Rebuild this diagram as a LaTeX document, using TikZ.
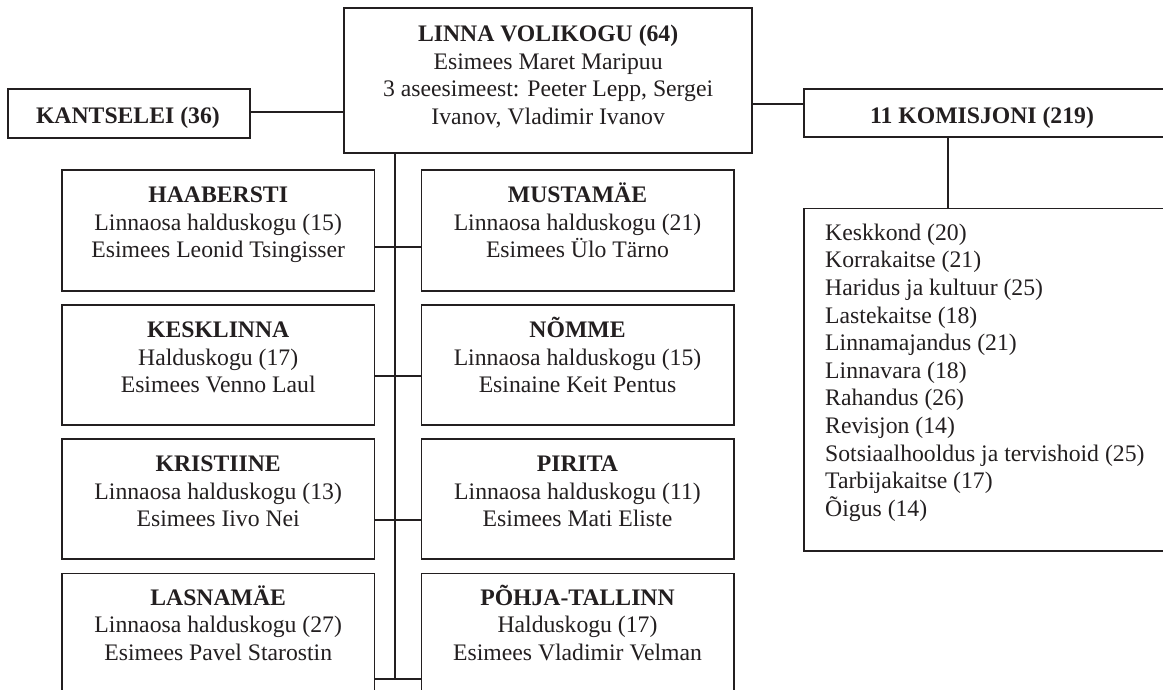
\documentclass[tikz,border=0pt]{standalone}
\usepackage{fontspec}
\setmainfont{Liberation Serif}
\usetikzlibrary{calc}
\definecolor{ink}{HTML}{231F20}
\begin{document}
\begin{tikzpicture}[x=1pt,y=-1pt,
  box/.style={draw=ink, line width=1.7pt, inner sep=0pt, anchor=north west},
  txt/.style={text=ink, inner sep=0pt, font=\fontsize{23.7}{27.5}\selectfont, align=center},
  ltxt/.style={text=ink, inner sep=0pt, font=\fontsize{23.7}{27.6}\selectfont, align=left},
  conn/.style={draw=ink, line width=1.7pt}]
\useasboundingbox (0,0) rectangle (1163,690);
\fill[white] (0,0) rectangle (1163,690);
% top boxes
\node[box, minimum width=242pt, minimum height=49pt] (kants) at (6.9,88) {};
\node[box, minimum width=408pt, minimum height=145pt] (voli) at (343.3,7.3) {};
\node[box, minimum width=365pt, minimum height=47.7pt] (komis) at (803,88.3) {};
\node[box, minimum width=365pt, minimum height=342.3pt] (list) at (803,207.7) {};
\node[txt, anchor=base] (kants-t) at (127.9,124) {\textbf{KANTSELEI (36)}};
\node[txt, anchor=base] (komis-t) at (982,123.3) {\textbf{11 KOMISJONI (219)}};
\node[txt, anchor=north] (voli-t) at ($(voli.north)+(0,12.4)$) {\rule{0pt}{22pt}\textbf{LINNA VOLIKOGU (64)}\\Esimees Maret Maripuu\\3 aseesimeest: Peeter Lepp, Sergei\\Ivanov, Vladimir Ivanov};
\node[ltxt, anchor=north west] (list-t) at (825,218) {\rule{0pt}{22pt}Keskkond (20)\\Korrakaitse (21)\\Haridus ja kultuur (25)\\Lastekaitse (18)\\Linnamajandus (21)\\Linnavara (18)\\Rahandus (26)\\Revisjon (14)\\Sotsiaalhooldus ja tervishoid (25)\\Tarbijakaitse (17)\\Õigus (14)};
% district boxes
\node[box, minimum width=312.3pt, minimum height=120.7pt] (haab) at (61.2,169.3) {};
\node[box, minimum width=312.3pt, minimum height=120.7pt] (must) at (420.5,169.3) {};
\node[box, minimum width=312.3pt, minimum height=120pt] (kesk) at (61.2,304) {};
\node[box, minimum width=312.3pt, minimum height=120pt] (nomme) at (420.5,304) {};
\node[box, minimum width=312.3pt, minimum height=120pt] (krist) at (61.2,438.3) {};
\node[box, minimum width=312.3pt, minimum height=120pt] (pirita) at (420.5,438.3) {};
\node[box, minimum width=312.3pt, minimum height=130pt] (lasna) at (61.2,572.5) {};
\node[box, minimum width=312.3pt, minimum height=130pt] (pohja) at (420.5,572.5) {};
\node[txt, anchor=north] (haab-t) at ($(haab.north)+(0,11.3)$) {\rule{0pt}{22pt}\textbf{HAABERSTI}\\Linnaosa halduskogu (15)\\Esimees Leonid Tsingisser};
\node[txt, anchor=north] (must-t) at ($(must.north)+(0,11.3)$) {\rule{0pt}{22pt}\textbf{MUSTAMÄE}\\Linnaosa halduskogu (21)\\Esimees Ülo Tärno};
\node[txt, anchor=north] (kesk-t) at ($(kesk.north)+(0,11.3)$) {\rule{0pt}{22pt}\textbf{KESKLINNA}\\Halduskogu (17)\\Esimees Venno Laul};
\node[txt, anchor=north] (nomme-t) at ($(nomme.north)+(0,11.3)$) {\rule{0pt}{22pt}\textbf{NÕMME}\\Linnaosa halduskogu (15)\\Esinaine Keit Pentus};
\node[txt, anchor=north] (krist-t) at ($(krist.north)+(0,11.3)$) {\rule{0pt}{22pt}\textbf{KRISTIINE}\\Linnaosa halduskogu (13)\\Esimees Iivo Nei};
\node[txt, anchor=north] (pirita-t) at ($(pirita.north)+(0,11.3)$) {\rule{0pt}{22pt}\textbf{PIRITA}\\Linnaosa halduskogu (11)\\Esimees Mati Eliste};
\node[txt, anchor=north] (lasna-t) at ($(lasna.north)+(0,10.5)$) {\rule{0pt}{22pt}\textbf{LASNAMÄE}\\Linnaosa halduskogu (27)\\Esimees Pavel Starostin};
\node[txt, anchor=north] (pohja-t) at ($(pohja.north)+(0,10.5)$) {\rule{0pt}{22pt}\textbf{PÕHJA-TALLINN}\\Halduskogu (17)\\Esimees Vladimir Velman};
% connectors
\coordinate (yk) at (0,111.7);
\coordinate (ym) at (0,103.7);
\coordinate (xk) at (948,0);
\draw[conn] (kants.east |- yk) -- (voli.west |- yk);
\draw[conn] (voli.east |- ym) -- (komis.west |- ym);
\draw[conn] (komis.south -| xk) -- (list.north -| xk);
\coordinate (r1) at (395.3,247);
\coordinate (r2) at (395.3,376);
\coordinate (r3) at (395.3,519.7);
\coordinate (r4) at (395.3,679.3);
\draw[conn] (voli.south -| r4) -- (r4);
\draw[conn] (haab.east |- r1) -- (must.west |- r1);
\draw[conn] (kesk.east |- r2) -- (nomme.west |- r2);
\draw[conn] (krist.east |- r3) -- (pirita.west |- r3);
\draw[conn] (lasna.east |- r4) -- (pohja.west |- r4);
\end{tikzpicture}
\end{document}
